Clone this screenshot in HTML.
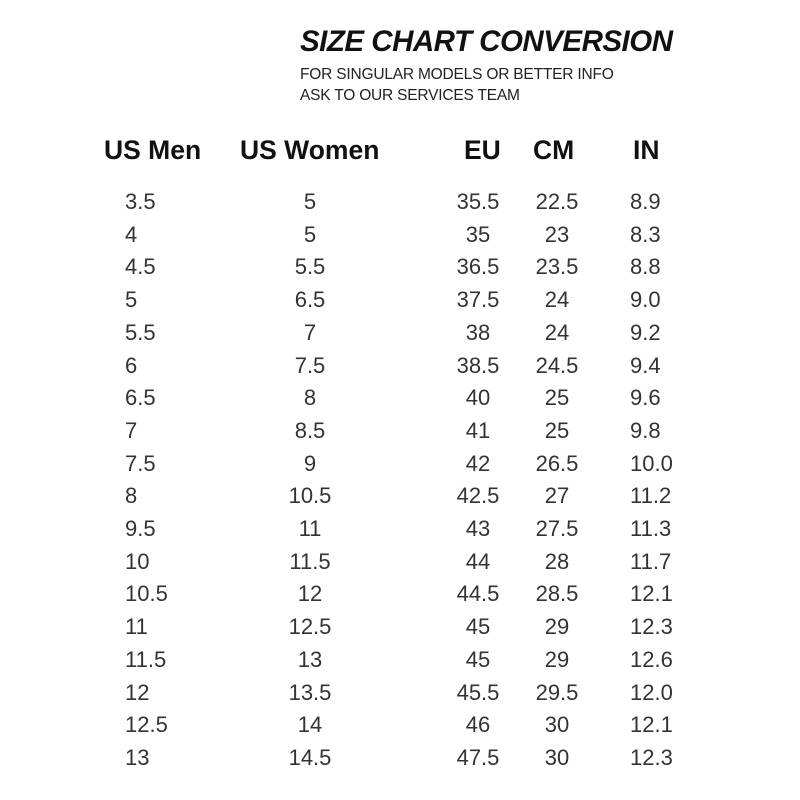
<!DOCTYPE html>
<html><head><style>
body{margin:0;width:800px;height:800px;background:#fff;position:relative;font-family:"Liberation Sans",sans-serif;color:#222;overflow:hidden}
.t{position:absolute;left:300px;top:25px;font-size:29.5px;font-weight:900;font-style:italic;letter-spacing:-0.5px;color:#111;transform:scaleX(1.0);transform-origin:left}
.s{position:absolute;left:300px;font-size:15.5px;color:#222;letter-spacing:-0.2px}
.h{position:absolute;top:135px;font-size:26.5px;font-weight:bold;color:#111}
.r{position:absolute;font-size:22px;color:#333;line-height:26px}
</style></head><body>
<div class="t">SIZE CHART CONVERSION</div>
<div class="s" style="top:66px">FOR SINGULAR MODELS OR BETTER INFO</div>
<div class="s" style="top:87px">ASK TO OUR SERVICES TEAM</div>
<div class="h" style="left:104px">US Men</div>
<div class="h" style="left:240px">US Women</div>
<div class="h" style="left:464px">EU</div>
<div class="h" style="left:533px">CM</div>
<div class="h" style="left:633px">IN</div>
<div id="rows"></div>
<script>
var d=[["3.5","5","35.5","22.5","8.9"],["4","5","35","23","8.3"],["4.5","5.5","36.5","23.5","8.8"],["5","6.5","37.5","24","9.0"],["5.5","7","38","24","9.2"],["6","7.5","38.5","24.5","9.4"],["6.5","8","40","25","9.6"],["7","8.5","41","25","9.8"],["7.5","9","42","26.5","10.0"],["8","10.5","42.5","27","11.2"],["9.5","11","43","27.5","11.3"],["10","11.5","44","28","11.7"],["10.5","12","44.5","28.5","12.1"],["11","12.5","45","29","12.3"],["11.5","13","45","29","12.6"],["12","13.5","45.5","29.5","12.0"],["12.5","14","46","30","12.1"],["13","14.5","47.5","30","12.3"]];
var h="";
d.forEach(function(r,i){var y=202+i*32.7-13;
h+='<div class="r" style="left:125px;top:'+y+'px">'+r[0]+'</div>';
h+='<div class="r" style="left:250px;width:120px;text-align:center;top:'+y+'px">'+r[1]+'</div>';
h+='<div class="r" style="left:428px;width:100px;text-align:center;top:'+y+'px">'+r[2]+'</div>';
h+='<div class="r" style="left:507px;width:100px;text-align:center;top:'+y+'px">'+r[3]+'</div>';
h+='<div class="r" style="left:630px;top:'+y+'px">'+r[4]+'</div>';});
document.getElementById("rows").innerHTML=h;
</script>
</body></html>
